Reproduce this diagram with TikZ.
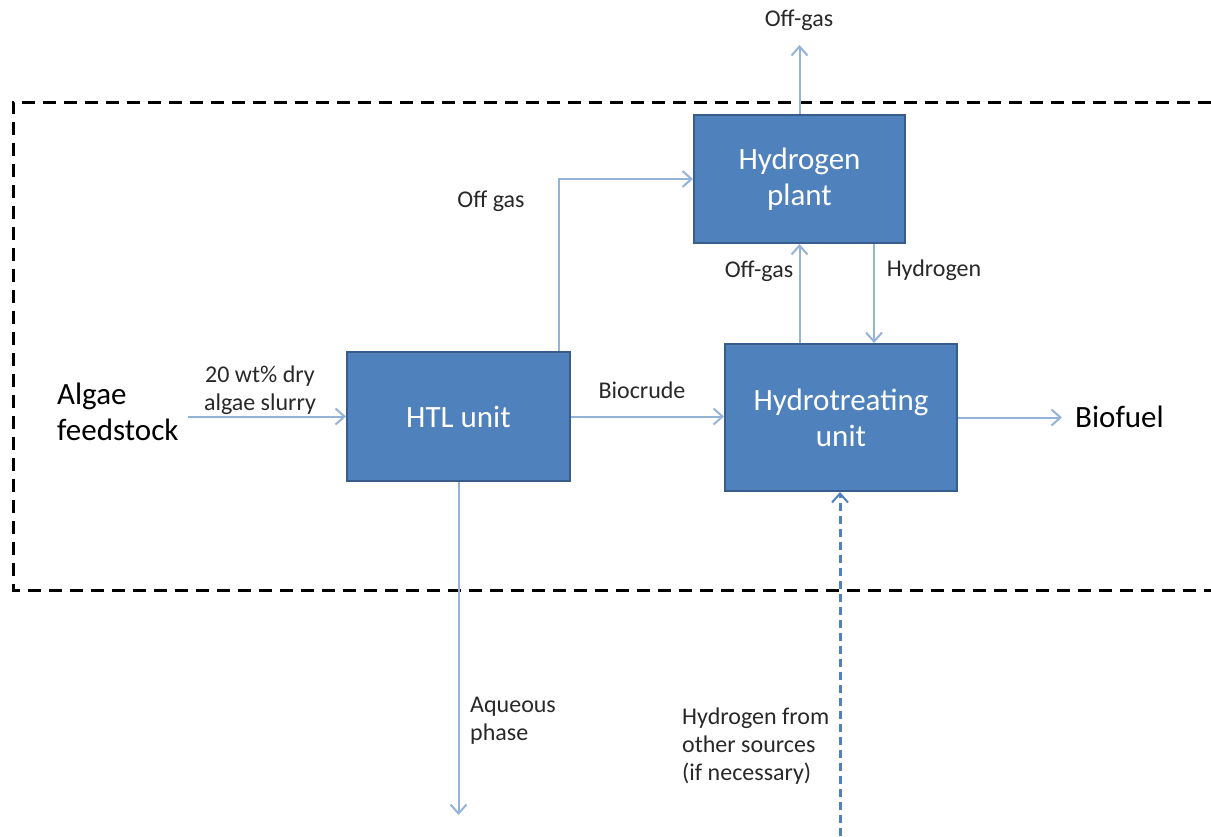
\documentclass[tikz,border=0pt]{standalone}
\usepackage{fontspec}
\setmainfont{Carlito}
\usetikzlibrary{arrows.meta}
\definecolor{unitfill}{RGB}{79,129,189}
\definecolor{unitedge}{RGB}{56,93,138}
\definecolor{flowblue}{RGB}{149,179,215}
\definecolor{labelgray}{RGB}{40,40,40}

\begin{document}
\begin{tikzpicture}[x=1pt,y=-1pt,
  unit/.style={draw=unitedge, line width=2pt, fill=unitfill, rectangle, text=white, align=center, font=\fontsize{31}{36}\selectfont},
  flow/.style={draw=flowblue, line width=2pt, -{Straight Barb[length=9pt,width=16pt,line width=2pt]}},
  lbl/.style={text=labelgray, font=\fontsize{24}{28}\selectfont, inner sep=0pt},
  biglbl/.style={text=black, font=\fontsize{31}{36}\selectfont, inner sep=0pt}]
\useasboundingbox (0,0) rectangle (1211,836);
\draw[line width=3pt, dash pattern=on 13pt off 8pt] (1211,102) -- (13,102) -- (13,590) -- (1211,590);

\node[unit, minimum width=211pt, minimum height=128pt] (hplant) at (799.5,179) {Hydrogen\\plant};
\node[unit, minimum width=223pt, minimum height=129pt] (htl) at (458.5,416.5) {HTL unit};
\node[unit, minimum width=232pt, minimum height=147pt] (hydro) at (841,417.5) {Hydrotreating\\unit};

\node[biglbl, align=left, anchor=west, inner xsep=9pt] (algae) at (48,412) {Algae\\feedstock};
\node[biglbl, anchor=west, inner xsep=13pt] (biofuel) at (1062,417) {Biofuel};
\node[lbl, align=center] (slurry) at (260,390) {20 wt\% dry\\algae slurry};
\node[lbl] (biocrude) at (642,390) {Biocrude};
\node[lbl] (offgas) at (491,201) {Off gas};
\node[lbl] (offgastop) at (799,20) {Off-gas};
\node[lbl] (offgasmid) at (759,271) {Off-gas};
\node[lbl] (hydrogen) at (934,270) {Hydrogen};
\node[lbl, align=left, anchor=west] (aqueous) at (470,721) {Aqueous\\phase};
\node[lbl, align=left, anchor=west] (othersrc) at (682,746) {Hydrogen from\\other sources\\(if necessary)};

\coordinate (gasout) at (799.5,45);
\coordinate (aqout) at (458.5,815);
\coordinate (h2src) at (840,836);

\draw[flow] (algae.east |- htl.west) -- (htl.west);
\draw[flow] (htl.east) -- (htl.east -| hydro.west);
\draw[flow] (hydro.east) -- (hydro.east -| biofuel.west);
\draw[flow] ([xshift=100pt]htl.north) |- (hplant.west);
\draw[flow] (hplant.north) -- (gasout);
\draw[flow] (hydro.north -| hplant.south) -- (hplant.south);
\draw[flow] ([xshift=-32pt]hplant.south east) -- ([xshift=-32pt]hplant.south east |- hydro.north);
\draw[flow] (htl.south) -- (aqout);
\draw[flow, draw=unitfill, line width=3pt, dash pattern=on 8pt off 5pt] (h2src) -- (h2src |- hydro.south);
\end{tikzpicture}
\end{document}
